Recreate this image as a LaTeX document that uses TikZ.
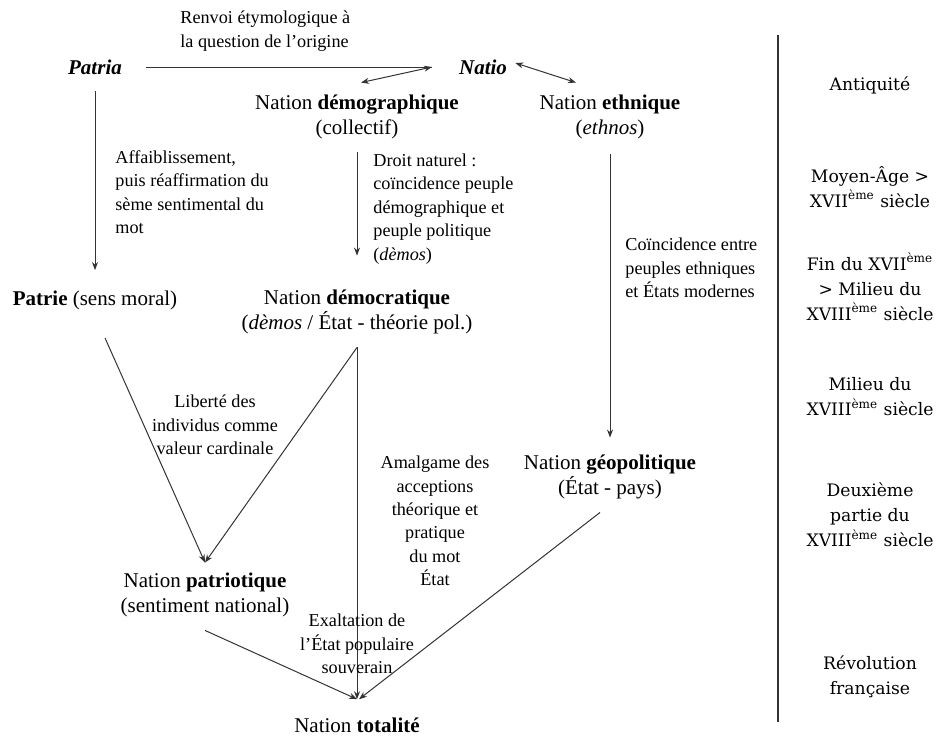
\documentclass[tikz,border=0pt]{standalone}
\usepackage{fontspec}
\setmainfont{Liberation Serif}
\newfontfamily\erafont{DejaVu Serif}
\usetikzlibrary{arrows.meta}
\newcommand{\mainsize}{\fontsize{10.5}{12.5}\selectfont}
\newcommand{\notesize}{\fontsize{9.1}{11.7}\selectfont}
\newcommand{\erasize}{\erafont\fontsize{8.6}{12.5}\selectfont}
\newcommand{\eme}{\textsuperscript{ème}}

\begin{document}
\begin{tikzpicture}[
                x=0.5pt, y=-0.5pt,
                word/.style={font=\mainsize, align=center, inner sep=2pt},
                note/.style={font=\notesize, align=left, inner sep=0pt},
                notec/.style={font=\notesize, align=center, inner sep=0pt},
                era/.style={font=\erasize, align=center, inner sep=0pt},
                arr/.style={-{Stealth[length=4pt, width=3pt]}, line width=0.5pt, draw=black!80},
                dbl/.style={{Stealth[length=4pt, width=3pt]}-{Stealth[length=4pt, width=3pt]},
                            line width=0.5pt, draw=black!80}
            ]
            \useasboundingbox (0,0) rectangle (936,740);

            % etymons
            \node[word] (patria) at (95, 67) {\textbf{\textit{Patria}}};
            \node[word] (natio) at (483, 67) {\textbf{\textit{Natio}}};
            \coordinate (fork) at (432, 67);
            \node[note, anchor=west] (renvoi) at (180, 31)
                {Renvoi étymologique à\\la question de l'origine};

            % acceptions of the word
            \node[word] (demog) at (357, 117) {Nation \textbf{démographique}\\(collectif)};
            \node[word] (ethn) at (610, 117) {Nation \textbf{ethnique}\\(\textit{ethnos})};
            \node[word] (patrie) at (95, 300) {\textbf{Patrie} (sens moral)};
            \node[word] (democ) at (357, 312)
                {Nation \textbf{démocratique}\\(\textit{dèmos} / État - théorie pol.)};
            \node[word] (geop) at (610, 477) {Nation \textbf{géopolitique}\\(État - pays)};
            \node[word] (patriot) at (205, 595) {Nation \textbf{patriotique}\\(sentiment national)};
            \node[word] (total) at (357, 725) {Nation \textbf{totalité}};

            % notes on the links
            \node[note, anchor=west] (affaib) at (115, 192)
                {Affaiblissement,\\puis réaffirmation du\\sème sentimental du\\mot};
            \node[note, anchor=west] (droit) at (373, 209)
                {Droit naturel :\\coïncidence peuple\\démographique et\\peuple politique\\(\textit{dèmos})};
            \node[note, anchor=west] (coinc) at (625, 268)
                {Coïncidence entre\\peuples ethniques\\et États modernes};
            \node[notec] (liberte) at (215, 425)
                {Liberté des\\individus comme\\valeur cardinale};
            \node[notec] (amalg) at (435, 521)
                {Amalgame des\\acceptions\\théorique et\\pratique\\du mot\\État};

            % links
            \draw[line width=0.5pt, draw=black!80, shorten <=10pt] (patria.east) -- (fork);
            \draw[dbl] (fork) -- ([xshift=2pt, yshift=4pt]demog.north);
            \draw[dbl] ([xshift=2pt, yshift=2pt]natio.east) -- ([xshift=-17pt, yshift=4pt]ethn.north);
            \draw[arr, shorten <=6pt, shorten >=8pt] (patria) -- (patrie);
            \draw[arr, shorten <=4.5pt, shorten >=15pt] (demog) -- (democ);
            \draw[arr, shorten <=5.5pt, shorten >=6.5pt] (ethn) -- (geop);
            \draw[arr] ([xshift=5pt, yshift=-12pt]patrie.south) -- ([yshift=3pt]patriot.north);
            \draw[arr] ([yshift=-4.5pt]democ.south) -- ([yshift=3pt]patriot.north);
            \draw[arr] ([yshift=-4.5pt]democ.south) -- ([yshift=7pt]total.north);
            \draw[arr] ([yshift=-4.5pt]patriot.south) -- ([yshift=7pt]total.north);
            \draw[arr] ([xshift=-5pt, yshift=-4.5pt]geop.south) -- ([xshift=1pt, yshift=7pt]total.north);

            \node[notec] (exalt) at (357, 644)
                {Exaltation de\\l'État populaire\\souverain};

            % periods
            \draw[line width=0.6pt, draw=black!80] (778, 35) -- (778, 722);
            \node[era] (antiq) at (870, 85) {Antiquité};
            \node[era] (moyen) at (870, 187) {Moyen-Âge >\\XVII\eme{} siècle};
            \node[era] (finxvii) at (870, 287) {Fin du XVII\eme\\> Milieu du\\XVIII\eme{} siècle};
            \node[era] (milieu) at (870, 397) {Milieu du\\XVIII\eme{} siècle};
            \node[era] (deux) at (870, 515) {Deuxième\\partie du\\XVIII\eme{} siècle};
            \node[era] (revol) at (870, 677) {Révolution\\française};

            \end{tikzpicture}
\end{document}
